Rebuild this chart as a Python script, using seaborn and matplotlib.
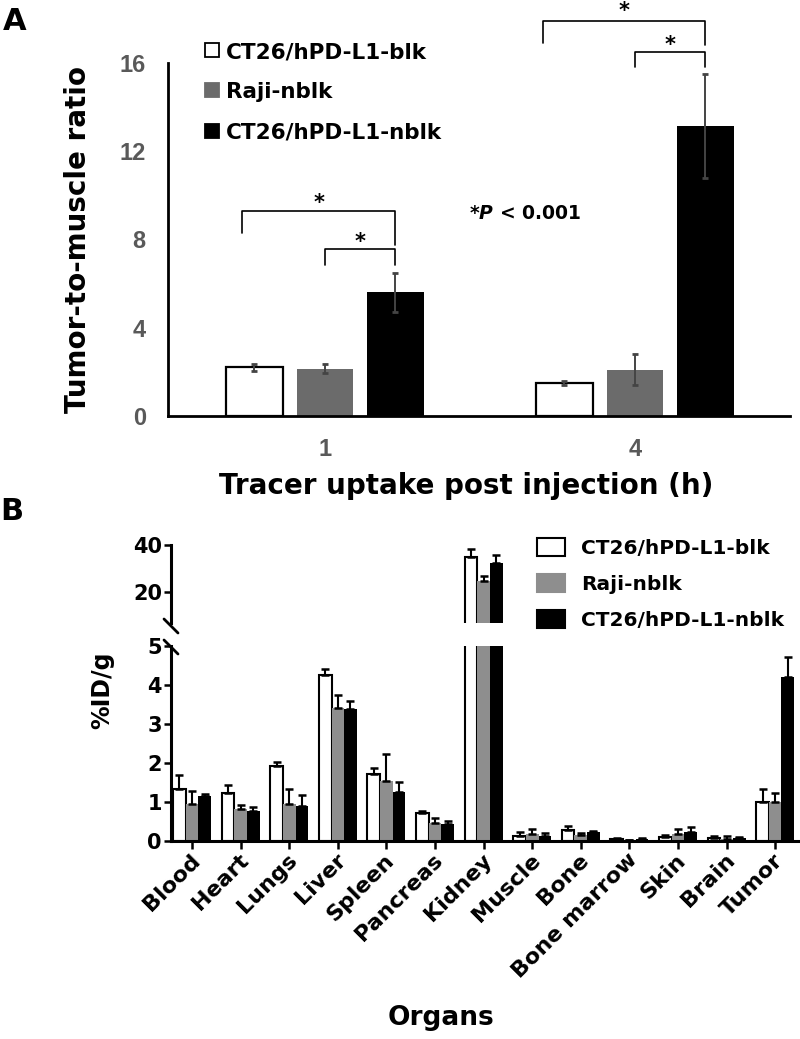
import numpy as np
import pandas as pd
import matplotlib
matplotlib.use("Agg")
from matplotlib import pyplot as plt
from matplotlib.lines import Line2D
from matplotlib.patches import Patch
from matplotlib.transforms import ScaledTranslation
import seaborn as sns

# panel A: tumor-to-muscle ratio
groups = ["CT26/hPD-L1-blk", "Raji-nblk", "CT26/hPD-L1-nblk"]
times = ["1", "4"]
ratio_mean = {
    "CT26/hPD-L1-blk": [2.2, 1.5],
    "Raji-nblk": [2.15, 2.1],
    "CT26/hPD-L1-nblk": [5.6, 13.15],
}
ratio_err = {
    "CT26/hPD-L1-blk": [0.15, 0.1],
    "Raji-nblk": [0.22, 0.7],
    "CT26/hPD-L1-nblk": [0.9, 2.35],
}

# panel B: biodistribution
organs = ["Blood", "Heart", "Lungs", "Liver", "Spleen", "Pancreas", "Kidney",
          "Muscle", "Bone", "Bone marrow", "Skin", "Brain", "Tumor"]
uptake_mean = {
    "CT26/hPD-L1-blk": [1.33, 1.22, 1.93, 4.25, 1.72, 0.72, 34.9,
                        0.12, 0.29, 0.05, 0.09, 0.08, 1.01],
    "Raji-nblk": [0.94, 0.81, 0.94, 3.42, 1.54, 0.45, 24.7,
                  0.17, 0.16, 0.03, 0.17, 0.06, 1.0],
    "CT26/hPD-L1-nblk": [1.16, 0.78, 0.9, 3.39, 1.25, 0.43, 32.3,
                         0.14, 0.22, 0.05, 0.23, 0.07, 4.2],
}
uptake_err = {
    "CT26/hPD-L1-blk": [0.37, 0.22, 0.1, 0.15, 0.15, 0.06, 3.4,
                        0.11, 0.09, 0.03, 0.07, 0.06, 0.32],
    "Raji-nblk": [0.34, 0.11, 0.39, 0.32, 0.68, 0.14, 2.1,
                  0.15, 0.05, 0.0, 0.15, 0.06, 0.22],
    "CT26/hPD-L1-nblk": [0.05, 0.1, 0.28, 0.2, 0.26, 0.09, 3.4,
                         0.07, 0.04, 0.02, 0.13, 0.02, 0.52],
}

colors_a = ["white", "#6b6b6b", "black"]
colors_b = ["white", "#8e8e8e", "black"]

df_a = pd.DataFrame([(t, g, ratio_mean[g][i], ratio_err[g][i])
                     for g in groups for i, t in enumerate(times)],
                    columns=["time", "group", "ratio", "err"])
df_b = pd.DataFrame([(o, g, uptake_mean[g][i], uptake_err[g][i])
                     for g in groups for i, o in enumerate(organs)],
                    columns=["organ", "group", "uptake", "err"])

sns.set_style("white")
plt.rcParams["font.family"] = ["DejaVu Sans"]
plt.rcParams["text.color"] = "black"
plt.rcParams["axes.labelcolor"] = "black"
plt.rcParams["xtick.color"] = "black"
plt.rcParams["ytick.color"] = "black"
plt.rcParams["mathtext.fontset"] = "custom"
plt.rcParams["mathtext.it"] = "DejaVu Sans:bold:italic"

fig = plt.figure(figsize=(8, 10.39), dpi=100)
W, H = 800, 1039


def frac(x0, y_top, x1, y_bot):
    return [x0 / W, 1 - y_bot / H, (x1 - x0) / W, (y_bot - y_top) / H]


# ---------------- panel A ----------------
ax_a = fig.add_axes(frac(168, 63, 790, 416))
sns.barplot(data=df_a, x="time", y="ratio", hue="group", order=times,
            hue_order=groups, palette=colors_a, width=0.682, gap=0.2,
            errorbar=None, legend=False, ax=ax_a, saturation=1)
bars_a = list(ax_a.containers)
for gi, cont in enumerate(bars_a):
    g = groups[gi]
    for p in cont:
        p.set_edgecolor("black")
        p.set_linewidth(1.6 if gi == 0 else 0)
    xs = [p.get_x() + p.get_width() / 2 for p in cont]
    ax_a.errorbar(xs, ratio_mean[g], yerr=ratio_err[g], fmt="none",
                  ecolor="#444444", elinewidth=1.4, capsize=2.5, capthick=2)

ax_a.set_xlim(-0.506, 1.5)
ax_a.set_ylim(0, 16)
ax_a.set_yticks([0, 4, 8, 12, 16])
ax_a.tick_params(axis="both", length=0, labelsize=17, labelcolor="#595959", pad=16)
for lab in ax_a.get_xticklabels() + ax_a.get_yticklabels():
    lab.set_family("Liberation Sans")
    lab.set_fontweight("bold")
sns.despine(ax=ax_a)
for s in ["left", "bottom"]:
    ax_a.spines[s].set_linewidth(2.0)
    ax_a.spines[s].set_color("black")
ax_a.set_ylabel("Tumor-to-muscle ratio", fontsize=20, fontweight="bold")
ax_a.yaxis.set_label_coords(-0.122, 0.5)
ax_a.set_xlabel("Tracer uptake post injection (h)", fontsize=20, fontweight="bold")
ax_a.xaxis.set_label_coords(0.479, -0.158)

# significance brackets
cx = [[p.get_x() + p.get_width() / 2 for p in c] for c in bars_a]
brackets = [
    # x_left, x_right, y, left leg end, right leg end, star y
    (cx[0][0] - 0.04, cx[2][0], 9.27, 8.3, 7.75, 9.64),
    (cx[1][0], cx[2][0], 7.57, 6.85, 6.85, 7.87),
    (cx[0][1] - 0.07, cx[2][1], 17.92, 16.9, 16.8, 18.35),
    (cx[1][1], cx[2][1], 16.5, 15.8, 15.8, 16.8),
]
for xl, xr, y, yl, yr, ys in brackets:
    ax_a.plot([xl, xl, xr, xr], [yl, y, y, yr], color="black", lw=1.2,
              clip_on=False)
    ax_a.text((xl + xr) / 2, ys, "*", ha="center", va="center", fontsize=15,
              fontweight="bold", clip_on=False)
ax_a.text(0.645, 9.2, r"*$\mathit{P}$ < 0.001", ha="center", va="center",
          fontsize=13.5, fontweight="bold")

handles_a = [Line2D([], [], ls="none", marker="s", markersize=10,
                    markerfacecolor=c, markeredgecolor="black" if i == 0 else c,
                    markeredgewidth=1.3)
             for i, c in enumerate(colors_a)]
ax_a.legend(handles_a, groups, loc="upper left",
            bbox_to_anchor=(204 / W, 1 - 42 / H), bbox_transform=fig.transFigure,
            frameon=False, prop={"weight": "bold", "size": 15.5},
            handlelength=0.78, handletextpad=0.22, labelspacing=0.93,
            borderpad=0, borderaxespad=0)

# ---------------- panel B ----------------
ax_top = fig.add_axes(frac(171, 545, 798, 623))
ax_bot = fig.add_axes(frac(171, 646, 798, 841))
for ax in (ax_top, ax_bot):
    sns.barplot(data=df_b, x="organ", y="uptake", hue="group", order=organs,
                hue_order=groups, palette=colors_b, width=0.78, gap=0,
                errorbar=None, legend=False, ax=ax, saturation=1)
    bars_b = list(ax.containers)
    for gi, cont in enumerate(bars_b):
        g = groups[gi]
        for p in cont:
            p.set_edgecolor("black")
            p.set_linewidth(1.5 if gi == 0 else 0)
        xs = [p.get_x() + p.get_width() / 2 for p in cont]
        ax.errorbar(xs, uptake_mean[g], yerr=[np.zeros(len(organs)), uptake_err[g]],
                    fmt="none", ecolor="black", elinewidth=1.5, capsize=3,
                    capthick=1.8)
    ax.set_xlim(-0.433, 12.47)
    ax.set_xlabel("")
    ax.set_ylabel("")
    for s in ["left", "bottom"]:
        ax.spines[s].set_linewidth(2.2)
        ax.spines[s].set_color("black")
    ax.tick_params(axis="y", direction="out", length=5, width=1.8, pad=1.5,
                   labelsize=15, left=True)

ax_top.set_ylim(7, 40)
ax_top.set_yticks([20, 40])
sns.despine(ax=ax_top, bottom=True)
ax_top.tick_params(axis="x", bottom=False, labelbottom=False)

ax_bot.set_ylim(0, 5)
ax_bot.set_yticks([0, 1, 2, 3, 4, 5])
sns.despine(ax=ax_bot)
ax_bot.tick_params(axis="x", direction="out", length=6, width=1.8, pad=2,
                   bottom=True, labelsize=16)
ax_bot.set_xticks(range(len(organs)))
ax_bot.set_xticklabels(organs, rotation=45, ha="right", va="center",
                       rotation_mode="anchor", fontweight="bold")
shift = ScaledTranslation(3.5 / 72, -3.5 / 72, fig.dpi_scale_trans)
for lab in ax_bot.get_xticklabels():
    lab.set_transform(lab.get_transform() + shift)
ax_bot.set_xlabel("Organs", fontsize=19, fontweight="bold", labelpad=0)
ax_bot.xaxis.set_label_coords(0.43, -0.84)
for ax in (ax_top, ax_bot):
    for lab in ax.get_yticklabels():
        lab.set_fontweight("bold")

fig.text(102 / W, 1 - 690 / H, "%ID/g", rotation=90, ha="center", va="center",
         fontsize=17, fontweight="bold")

# axis break marks
for yc in (626, 647):
    fig.add_artist(Line2D([164 / W, 178 / W], [1 - (yc - 7) / H, 1 - (yc + 7) / H],
                          color="black", lw=2.0, transform=fig.transFigure))

handles_b = [Patch(facecolor=c, edgecolor="black" if i == 0 else c, linewidth=1.5)
             for i, c in enumerate(colors_b)]
ax_top.legend(handles_b, groups, loc="upper left",
              bbox_to_anchor=(537 / W, 1 - 538 / H), bbox_transform=fig.transFigure,
              frameon=False, prop={"weight": "bold", "size": 14.5},
              handlelength=1.4, handleheight=1.0, handletextpad=0.78,
              labelspacing=0.8, borderpad=0, borderaxespad=0)

fig.text(3 / W, 1 - 22 / H, "A", fontsize=22, fontweight="bold", va="center")
fig.text(0 / W, 1 - 511 / H, "B", fontsize=22, fontweight="bold", va="center")

fig.savefig("out.png", dpi=100)
